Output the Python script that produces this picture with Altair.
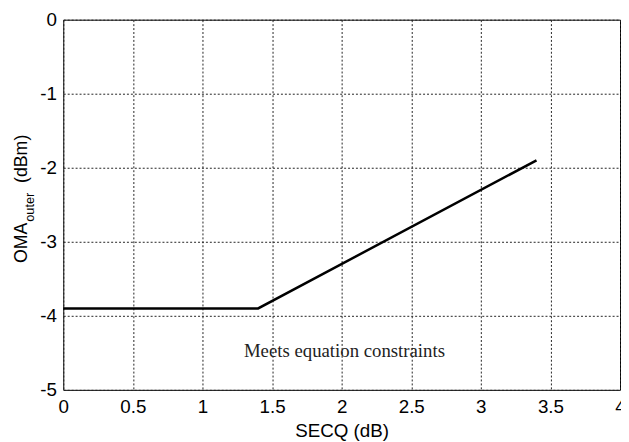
import altair as alt
import pandas as pd

# Data
secq = [0.0, 1.4, 3.4]
oma = [-3.9, -3.9, -1.9]
x_ticks = [0, 0.5, 1, 1.5, 2, 2.5, 3, 3.5, 4]
y_ticks = [0, -1, -2, -3, -4, -5]
note_text = ["Meets equation constraints"]
note_x = [2.02]
note_y = [-4.47]
ytitle_parts = ["OMA", "outer", "(dBm)"]

W, H = 564, 375

line_df = pd.DataFrame({"secq": secq, "oma": oma})
note_df = pd.DataFrame({"x": note_x, "y": note_y, "t": note_text})

x_scale = alt.Scale(domain=[0, 4], nice=False, zero=False)
y_scale = alt.Scale(domain=[-5, 0], nice=False, zero=False)

x_axis = alt.Axis(
    values=x_ticks, title="SECQ (dB)", grid=True, gridDash=[2, 2], gridColor="#222222",
    gridWidth=1, ticks=False, domain=False, labelFont="Liberation Sans", labelFontSize=19,
    labelColor="black", labelPadding=8, labelFlush=False, labelOverlap=False,
    titleFont="Liberation Sans", titleFontSize=19, titleFontWeight="normal",
    titleColor="black", titleBaseline="alphabetic", titleY=47,
    labelExpr="toString(datum.value)",
)
y_axis = alt.Axis(
    values=y_ticks, title=None, grid=True, gridDash=[2, 2], gridColor="#222222",
    gridWidth=1, ticks=False, domain=False, labelFont="Liberation Sans", labelFontSize=19,
    labelColor="black", labelPadding=7, labelFlush=False, labelOverlap=False,
    labelExpr="toString(datum.value)",
)

line = alt.Chart(line_df).mark_line(color="black", strokeWidth=2.5).encode(
    x=alt.X("secq:Q", scale=x_scale, axis=x_axis),
    y=alt.Y("oma:Q", scale=y_scale, axis=y_axis),
)

note = alt.Chart(note_df).mark_text(
    font="Liberation Serif", fontSize=19, color="#222222", align="center", baseline="middle"
).encode(
    x=alt.X("x:Q", scale=x_scale),
    y=alt.Y("y:Q", scale=y_scale),
    text="t:N",
)

def title_part(txt, size, px, py):
    df = pd.DataFrame({"t": [txt]})
    return alt.Chart(df).mark_text(
        angle=270, align="center", baseline="middle", font="Liberation Sans",
        fontSize=size, color="black",
    ).encode(text="t:N", x=alt.value(px), y=alt.value(py))

t1 = title_part(ytitle_parts[0], 18, -42, 226)
t2 = title_part(ytitle_parts[1], 13, -34, 190)
t3 = title_part(ytitle_parts[2], 18, -42, 141)

chart = alt.layer(line, note, t1, t2, t3).properties(
    width=W, height=H,
    autosize=alt.AutoSizeParams(type="none"),
    padding={"left": 56, "top": 9, "right": 1, "bottom": 50},
    background="white",
).configure_view(stroke="black", strokeWidth=1)

chart.save("out.html", embed_options={"renderer": "svg", "actions": False})
